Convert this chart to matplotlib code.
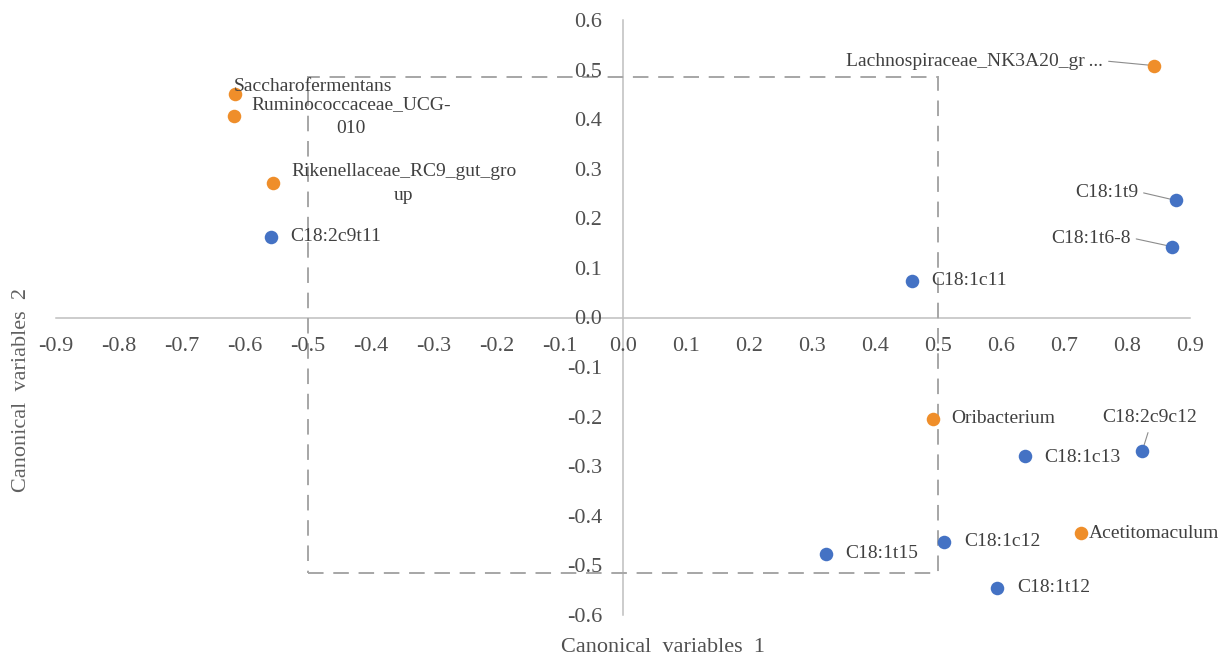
import matplotlib
matplotlib.use("Agg")
import matplotlib.pyplot as plt
from matplotlib.patches import Rectangle

plt.rcParams['font.family'] = ['Liberation Serif', 'DejaVu Serif']

# Orange series: bacteria
bact_names = ["Saccharofermentans", "Ruminococcaceae_UCG-\n010", "Rikenellaceae_RC9_gut_gro\nup",
              "Lachnospiraceae_NK3A20_gr\u2009...", "Oribacterium", "Acetitomaculum"]
bact_x = [-0.616, -0.617, -0.556, 0.843, 0.492, 0.727]
bact_y = [0.450, 0.407, 0.272, 0.508, -0.204, -0.435]

# Blue series: fatty acids
fa_names = ["C18:2c9t11", "C18:1c11", "C18:1t9", "C18:1t6-8", "C18:2c9c12",
            "C18:1c13", "C18:1c12", "C18:1t15", "C18:1t12"]
fa_x = [-0.559, 0.459, 0.878, 0.871, 0.824, 0.638, 0.510, 0.322, 0.594]
fa_y = [0.163, 0.073, 0.236, 0.143, -0.270, -0.280, -0.452, -0.476, -0.546]

x_ticks = [-0.9, -0.8, -0.7, -0.6, -0.5, -0.4, -0.3, -0.2, -0.1, 0.0, 0.1, 0.2, 0.3, 0.4, 0.5, 0.6, 0.7, 0.8, 0.9]
y_ticks = [-0.6, -0.5, -0.4, -0.3, -0.2, -0.1, 0.0, 0.1, 0.2, 0.3, 0.4, 0.5, 0.6]

ORANGE = "#EF8E2A"
BLUE = "#4472C4"
TXT = "#404040"
AX = "#BFBFBF"

fig = plt.figure(figsize=(12.18, 6.58), dpi=100)
ax = fig.add_axes([56/1218, 1-615/658, (1190-56)/1218, (615-20)/658])
ax.set_xlim(-0.9, 0.9)
ax.set_ylim(-0.6, 0.6)

for s in ['top', 'right']:
    ax.spines[s].set_visible(False)
ax.spines['left'].set_position(('data', 0))
ax.spines['bottom'].set_position(('data', 0))
for s in ['left', 'bottom']:
    ax.spines[s].set_color(AX)
    ax.spines[s].set_linewidth(1.1)
    ax.spines[s].set_zorder(0.5)

ax.set_xticks(x_ticks)
ax.set_yticks(y_ticks)
ax.set_xticklabels([f"{v:.1f}" for v in x_ticks])
ax.set_yticklabels([f"{v:.1f}" for v in y_ticks])
ax.tick_params(axis='x', length=0, pad=14, labelsize=16, labelcolor="#505050")
ax.tick_params(axis='y', length=0, pad=15, labelsize=16, labelcolor="#505050")

# dashed reference box
ax.add_patch(Rectangle((-0.5, -0.515), 1.0, 1.0, fill=False, edgecolor="#A6A6A6",
                       linestyle=(0, (8, 5)), linewidth=1.4, zorder=1))

ax.scatter(bact_x, bact_y, s=95, color=ORANGE, zorder=3, linewidths=0)
ax.scatter(fa_x, fa_y, s=95, color=BLUE, zorder=3, linewidths=0)

# label offsets (pixels) and alignment
bact_lab = [(-1, 8, 'left'), (117, -1, 'center'), (131, -1, 'center'),
            (-51, 4, 'right'), (18, 0, 'left'), (8, 0, 'left')]
fa_lab = [(19, 0, 'left'), (19, 1, 'left'), (-38, 8, 'right'), (-41, 8, 'right'),
          (8, 34, 'center'), (19, -1, 'left'), (20, 0, 'left'), (19, 0, 'left'), (20, 1, 'left')]

def put(names, xs, ys, labs):
    for n, x, y, (dx, dy, ha) in zip(names, xs, ys, labs):
        arrow = None
        if ha == 'right':
            arrow = dict(arrowstyle='-', color="#8C8C8C", lw=0.8,
                         shrinkA=2, shrinkB=0, relpos=(1.0, 0.55))
        elif ha == 'center' and dy > 20:
            arrow = dict(arrowstyle='-', color="#8C8C8C", lw=0.8,
                         shrinkA=3, shrinkB=0, relpos=(0.5, 0.0))
        if arrow is not None:
            # leader line drawn beneath the markers
            ax.annotate(n, (x, y), xytext=(dx, dy), textcoords='offset pixels',
                        ha=ha, va='center', multialignment='center',
                        fontsize=14, color=TXT, zorder=2, linespacing=1.5,
                        arrowprops=arrow)
        else:
            ax.annotate(n, (x, y), xytext=(dx, dy), textcoords='offset pixels',
                        ha=ha, va='center', multialignment='center',
                        fontsize=14, color=TXT, zorder=4, linespacing=1.55)

put(bact_names, bact_x, bact_y, bact_lab)
put(fa_names, fa_x, fa_y, fa_lab)

fig.text(663/1218, 1-648/658, "Canonical  variables  1", ha='center', va='center',
         fontsize=16, color="#505050")
fig.text(22/1218, 1-390/658, "Canonical  variables  2", ha='center', va='center',
         rotation=90, fontsize=16, color="#606060")

fig.savefig("out.png", dpi=100)
